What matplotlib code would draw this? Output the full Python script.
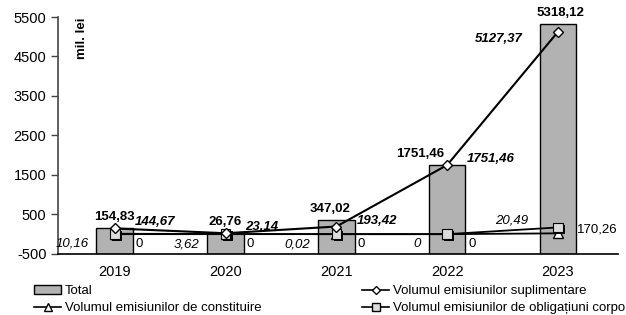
import matplotlib
matplotlib.use("Agg")
import numpy as np
from matplotlib import pyplot as plt
from matplotlib import patheffects as pe
from matplotlib.patches import Patch
from matplotlib.lines import Line2D

plt.rcParams['font.family'] = ['Liberation Sans', 'DejaVu Sans']
plt.rcParams['axes.unicode_minus'] = False

years = ["2019", "2020", "2021", "2022", "2023"]
total = [154.83, 26.76, 347.02, 1751.46, 5318.12]
suplimentare = [144.67, 23.14, 193.42, 1751.46, 5127.37]
constituire = [10.16, 3.62, 0.02, 0, 20.49]
obligatiuni = [0, 0, 0, 0, 170.26]

total_labels = ["154,83", "26,76", "347,02", "1751,46", "5318,12"]
supl_labels = ["144,67", "23,14", "193,42", "1751,46", "5127,37"]
const_labels = ["10,16", "3,62", "0,02", "0", "20,49"]
oblig_labels = ["0", "0", "0", "0", "170,26"]

BASE = -500
x = np.arange(len(years))

fig = plt.figure(figsize=(6.26, 3.15), dpi=100)
ax = fig.add_axes([0.093, 0.194, 0.894, 0.752])

# bars grow from the bottom of the axis, like in the excel chart
ax.bar(x, np.array(total) - BASE, bottom=BASE, width=0.33,
       color="#b2b2b2", edgecolor="black", linewidth=1.0, zorder=2)

ax.plot(x, constituire, color="black", lw=1.3, marker="^", ms=7.5,
        mfc="white", mec="black", mew=1.0, zorder=3)
ax.plot(x, obligatiuni, color="black", lw=1.3, zorder=3)
ax.plot(x, obligatiuni, ls="none", marker="s", ms=7, mfc="#dcdcdc",
        mec="black", mew=0.8, zorder=4,
        path_effects=[pe.withSimplePatchShadow(offset=(1.5, -1.5),
                                               shadow_rgbFace="black", alpha=1)])
ax.plot(x, suplimentare, color="black", lw=1.5, marker="D", ms=5.5,
        mfc="white", mec="black", mew=1.0, zorder=5)

ax.set_ylim(-500, 5500)
ax.set_xlim(-0.51, 4.54)
ax.set_yticks(np.arange(-500, 5501, 1000))
ax.set_xticks(x)
ax.set_xticklabels(years)
ax.tick_params(axis="y", labelsize=10.5, length=5, width=1, color="#444444")
ax.tick_params(axis="x", labelsize=10.5, length=0, pad=8)
for s in ["top", "right"]:
    ax.spines[s].set_visible(False)
ax.spines["left"].set_color("#444444")
ax.spines["left"].set_linewidth(1.2)
ax.spines["bottom"].set_linewidth(1.2)

ax.text(0.042, 1.0, "mil. lei", transform=ax.transAxes, rotation=90,
        fontsize=9.5, fontweight="bold", ha="center", va="top")


def put(xi, yi, s, dx, dy, ha, **kw):
    ax.annotate(s, (xi, yi), xytext=(dx, dy), textcoords="offset pixels",
                ha=ha, va="center", fontsize=9.5, zorder=6, **kw)


total_dx = [0, 0, -6, -27, 2]
for i in range(len(years)):
    put(x[i], total[i], total_labels[i], total_dx[i], 11, "center",
        fontweight="bold")
    if i < 4:
        put(x[i], suplimentare[i], supl_labels[i], 20, 6, "left",
            fontweight="bold", fontstyle="italic")
        put(x[i], constituire[i], const_labels[i], -26, -10, "right",
            fontstyle="italic")
        put(x[i], obligatiuni[i], oblig_labels[i], 21, -10, "left")
    else:
        put(x[i], suplimentare[i], supl_labels[i], -35, -7, "right",
            fontweight="bold", fontstyle="italic")
        put(x[i], constituire[i], const_labels[i], -46, 13, "center",
            fontstyle="italic")
        put(x[i], obligatiuni[i], oblig_labels[i], 19, -2, "left")

handles = [
    Patch(facecolor="#b2b2b2", edgecolor="black", linewidth=1.0),
    Line2D([], [], color="black", lw=1.2, marker="^", ms=5.5, mfc="white", mec="black"),
    Line2D([], [], color="black", lw=1.2, marker="D", ms=4, mfc="white", mec="black"),
    Line2D([], [], color="black", lw=1.2, marker="s", ms=5.5, mfc="#dcdcdc", mec="black"),
]
labels = [
    "Total",
    "Volumul emisiunilor de constituire",
    "Volumul emisiunilor suplimentare",
    "Volumul emisiunilor de obligațiuni corporative",
]
fig.legend(handles, labels, loc="upper left", bbox_to_anchor=(0.055, 0.095),
           ncol=2, frameon=False, fontsize=9.5, handlelength=2.0,
           handletextpad=0.3, columnspacing=7.65, labelspacing=0.35,
           borderpad=0, borderaxespad=0)

fig.savefig("out.png", dpi=100)
